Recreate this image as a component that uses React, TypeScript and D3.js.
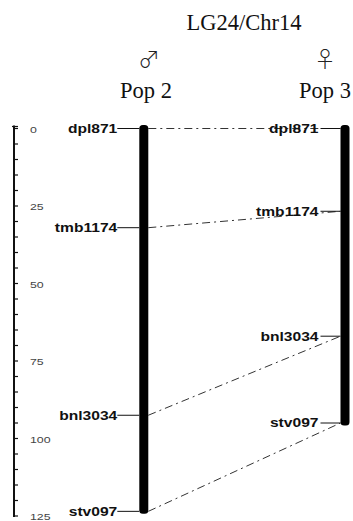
import React from "react";
import * as d3 from "d3";

const markers = ["dpl871", "tmb1174", "bnl3034", "stv097"];
const pop2Pos = [0, 32, 92.5, 123.5];
const pop3Pos = [0, 26.7, 67, 95];
const axisTicks = [0, 25, 50, 75, 100, 125];
const minorTicks = d3.range(0, 126, 5);

const W = 353;
const H = 521;

export default function App() {
  const y = d3.scaleLinear().domain([0, 125]).range([128.5, 516]);
  const c1 = 143.8;
  const c2 = 345;
  const cw = 9;
  const c1L = c1 - cw / 2, c1R = c1 + cw / 2;
  const c2L = c2 - cw / 2;
  const labelFont = "'Liberation Sans', Arial, sans-serif";
  const serif = "'Liberation Serif', 'Times New Roman', serif";
  const symFont = "'Noto Sans CJK JP', 'DejaVu Sans', sans-serif";
  const ax = 14;
  return (
    <svg width={W} height={H} style={{ position: "absolute", left: 0, top: 0, background: "#fff" }}>
      {/* titles */}
      <text x={244} y={30} textAnchor="middle" fontFamily={serif} fontSize={22.5} fill="#111">LG24/Chr14</text>
      <text x={149} y={67} textAnchor="middle" fontFamily={symFont} fontWeight={300} fontSize={22} fill="#222">♂</text>
      <text x={325} y={67} textAnchor="middle" fontFamily={symFont} fontWeight={300} fontSize={22} fill="#222">♀</text>
      <text x={146} y={98} textAnchor="middle" fontFamily={serif} fontSize={22.5} fill="#111">Pop 2</text>
      <text x={325} y={98} textAnchor="middle" fontFamily={serif} fontSize={22.5} fill="#111">Pop 3</text>

      {/* axis */}
      <line x1={ax} x2={ax} y1={y(0) - 3} y2={y(125) + 1} stroke="#111" strokeWidth={2} />
      {minorTicks.map((t) => (
        <line key={"m" + t} x1={ax} x2={ax + 4} y1={y(t)} y2={y(t)} stroke="#111" strokeWidth={1.2} />
      ))}
      <line x1={ax - 2} x2={ax + 4} y1={y(0) - 2} y2={y(0) - 2} stroke="#111" strokeWidth={1.2} />
      {axisTicks.map((t) => (
        <text key={"t" + t} transform={`translate(30,${y(t) + 1}) scale(1.3,1)`} dy="0.35em" fontFamily={labelFont} fontSize={9.5} fill="#444">{t}</text>
      ))}

      {/* connectors */}
      {markers.map((m, i) => (
        <line key={"c" + m} x1={c1R} y1={y(pop2Pos[i])} x2={c2L} y2={y(pop3Pos[i])} stroke="#333" strokeWidth={1} strokeDasharray="8,4,2,4" />
      ))}

      {/* chromosomes */}
      <rect x={c1L} y={y(0) - 3.5} width={cw} height={y(pop2Pos[3]) - y(0) + 6} rx={3.5} fill="#000" />
      <rect x={c2L} y={y(0) - 3.5} width={cw} height={y(pop3Pos[3]) - y(0) + 6} rx={3.5} fill="#000" />

      {/* marker ticks and labels */}
      {markers.map((m, i) => (
        <g key={"p2" + m}>
          <line x1={c1L - 22} x2={c1L} y1={y(pop2Pos[i])} y2={y(pop2Pos[i])} stroke="#111" strokeWidth={1} />
          <text transform={`translate(${c1L - 22},${y(pop2Pos[i])}) scale(1.25,1)`} dy="0.35em" textAnchor="end" fontFamily={labelFont} fontWeight="bold" fontSize={12.5} fill="#111">{m}</text>
        </g>
      ))}
      {markers.map((m, i) => (
        <g key={"p3" + m}>
          <line x1={c2L - 20} x2={c2L} y1={y(pop3Pos[i])} y2={y(pop3Pos[i])} stroke="#111" strokeWidth={1} />
          <text transform={`translate(${c2L - 22},${y(pop3Pos[i])}) scale(1.25,1)`} dy="0.35em" textAnchor="end" fontFamily={labelFont} fontWeight="bold" fontSize={12.5} fill="#111">{m}</text>
        </g>
      ))}
    </svg>
  );
}
